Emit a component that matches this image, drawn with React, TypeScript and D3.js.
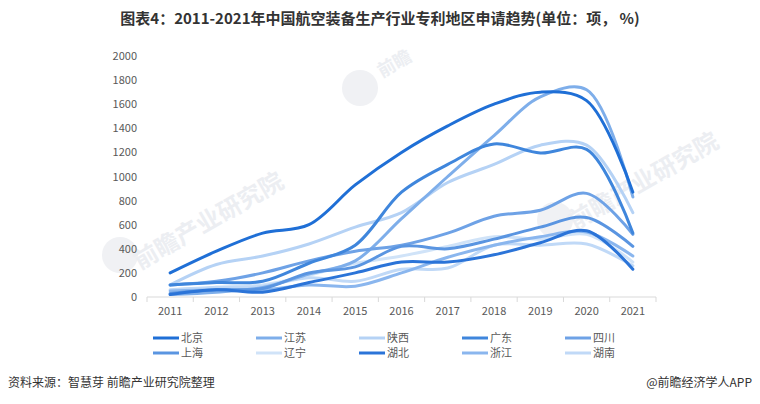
import React from 'react';
import * as d3 from 'd3';

const years = ['2011', '2012', '2013', '2014', '2015', '2016', '2017', '2018', '2019', '2020', '2021'];
const yTicks = [0, 200, 400, 600, 800, 1000, 1200, 1400, 1600, 1800, 2000];

const regions = ['北京', '江苏', '陕西', '广东', '四川', '上海', '辽宁', '湖北', '浙江', '湖南'];
const colors = ['#1f6fd6', '#7eaeea', '#b5d2f5', '#3f86dc', '#6ea2e6', '#5a95e1', '#d0e3f8', '#2b74d8', '#8ab6ee', '#c0d9f7'];

const beijing = [200, 380, 530, 600, 930, 1200, 1420, 1600, 1700, 1630, 870];
const jiangsu = [20, 40, 80, 190, 300, 650, 1000, 1340, 1660, 1720, 830];
const shaanxi = [100, 270, 340, 440, 580, 700, 950, 1100, 1260, 1260, 700];
const guangdong = [100, 120, 130, 280, 430, 870, 1100, 1270, 1195, 1225, 530];
const sichuan = [100, 130, 200, 300, 380, 430, 530, 670, 720, 860, 520];
const shanghai = [30, 60, 70, 200, 250, 420, 400, 480, 580, 660, 420];
const liaoning = [30, 80, 100, 180, 280, 340, 420, 500, 480, 520, 290];
const hubei = [20, 60, 40, 120, 200, 290, 290, 350, 450, 550, 230];
const zhejiang = [50, 60, 60, 100, 90, 200, 330, 430, 500, 540, 340];
const hunan = [60, 80, 90, 160, 130, 230, 240, 430, 430, 440, 260];

const seriesValues = [beijing, jiangsu, shaanxi, guangdong, sichuan, shanghai, liaoning, hubei, zhejiang, hunan];

const W = 760;
const H = 404;
const left = 147;
const right = 656;
const top = 56;
const bottom = 297;

const font = '"Noto Sans CJK SC", "Microsoft YaHei", sans-serif';

const App: React.FC = () => {
  const x = d3.scaleBand<string>().domain(years).range([left, right]);
  const y = d3.scaleLinear().domain([0, 2000]).range([bottom, top]);

  const line = d3.line<number>()
    .x((_, i) => (x(years[i]) as number) + x.bandwidth() / 2)
    .y(d => y(d))
    .curve(d3.curveCatmullRom.alpha(0.5));

  // draw lightest first so darker lines sit on top
  const order = [6, 9, 2, 8, 1, 4, 5, 3, 7, 0];

  return (
    <svg width={W} height={H} style={{ position: 'absolute', left: 0, top: 0, background: '#fff' }}>
      <text x={380} y={24} textAnchor="middle" fontFamily={font} fontSize={15} fontWeight="bold" fill="#333">
        图表4：2011-2021年中国航空装备生产行业专利地区申请趋势(单位：项， %)
      </text>

      {/* watermarks */}
      <g fill="#eceef2" fontFamily={font} fontWeight="bold">
        <circle cx={360} cy={88} r={18} fill="#f0f1f4" />
        <text x={382} y={78} fontSize={18} transform="rotate(-30 382 78)">前瞻</text>
        <circle cx={120} cy={255} r={18} fill="#f0f1f4" />
        <text x={140} y={270} fontSize={24} transform="rotate(-30 140 270)">前瞻产业研究院</text>
        <circle cx={555} cy={220} r={18} fill="#f0f1f4" />
        <text x={575} y={230} fontSize={24} transform="rotate(-30 575 230)">前瞻产业研究院</text>
      </g>

      {/* y axis labels */}
      {yTicks.map(t => (
        <text key={t} x={137} y={y(t) + 4} textAnchor="end" fontFamily={font} fontSize={11} fill="#595959">
          {t}
        </text>
      ))}

      {/* x axis */}
      <line x1={left} x2={right} y1={bottom} y2={bottom} stroke="#d9d9d9" />
      {years.map(yr => (
        <line key={'t' + yr} x1={x(yr)} x2={x(yr)} y1={bottom} y2={bottom + 5} stroke="#d9d9d9" />
      ))}
      <line x1={right} x2={right} y1={bottom} y2={bottom + 5} stroke="#d9d9d9" />
      {years.map(yr => (
        <text key={yr} x={(x(yr) as number) + x.bandwidth() / 2} y={315} textAnchor="middle" fontFamily={font} fontSize={11} fill="#595959">
          {yr}
        </text>
      ))}

      {/* lines */}
      {order.map(i => (
        <path key={regions[i]} d={line(seriesValues[i]) || ''} fill="none" stroke={colors[i]} strokeWidth={3} strokeLinecap="round" strokeLinejoin="round" />
      ))}

      {/* legend */}
      {regions.map((r, i) => {
        const col = i % 5;
        const row = Math.floor(i / 5);
        const lx = 153 + col * 103;
        const ly = 338 + row * 15;
        return (
          <g key={'lg' + r}>
            <line x1={lx} x2={lx + 26} y1={ly} y2={ly} stroke={colors[i]} strokeWidth={3} />
            <text x={lx + 28} y={ly + 4} fontFamily={font} fontSize={11} fill="#595959">{r}</text>
          </g>
        );
      })}

      <text x={8} y={387} fontFamily={font} fontSize={12} fill="#333">资料来源：智慧芽 前瞻产业研究院整理</text>
      <text x={752} y={387} textAnchor="end" fontFamily={font} fontSize={12} fill="#333">@前瞻经济学人APP</text>
    </svg>
  );
};

export default App;
